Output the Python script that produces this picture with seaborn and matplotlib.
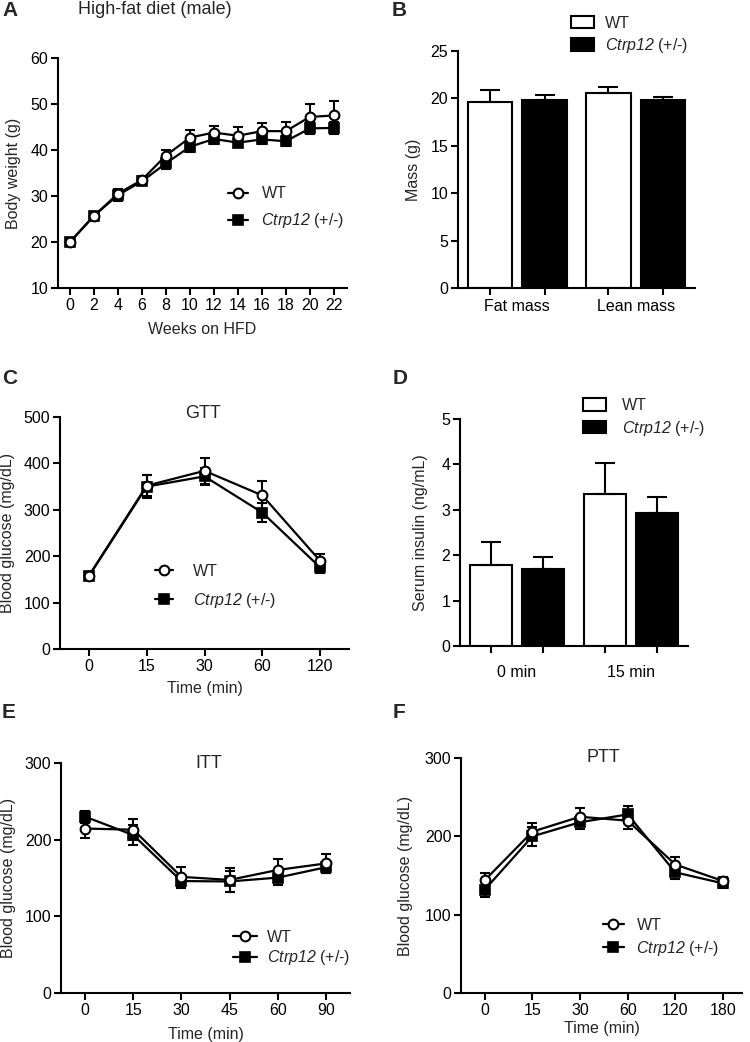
import numpy as np
import pandas as pd
import matplotlib
matplotlib.use("Agg")
import matplotlib.pyplot as plt
import seaborn as sns
from matplotlib.patches import Patch

# A - body weight on high-fat diet
weeks = [0, 2, 4, 6, 8, 10, 12, 14, 16, 18, 20, 22]
bw_wt = [20.0, 25.7, 30.5, 33.5, 38.8, 42.7, 43.8, 43.1, 44.1, 44.1, 47.2, 47.5]
bw_wt_err = [0.5, 0.5, 1.0, 0.8, 1.1, 1.6, 1.5, 1.8, 1.7, 1.9, 2.9, 3.1]
bw_ko = [20.0, 25.7, 30.2, 33.2, 37.1, 40.7, 42.4, 41.6, 42.3, 41.9, 44.7, 44.8]
bw_ko_err = [0.5, 0.5, 1.2, 0.8, 1.2, 1.2, 1.0, 1.0, 1.0, 1.1, 1.3, 1.3]

# B - body composition
comp_groups = ["Fat mass", "Lean mass"]
mass_wt = [19.65, 20.55]
mass_wt_err = [1.2, 0.6]
mass_ko = [19.85, 19.8]
mass_ko_err = [0.5, 0.3]

# C - GTT
gtt_times = ["0", "15", "30", "60", "120"]
gtt_wt = [158, 352, 384, 331, 190]
gtt_wt_err = [8, 23, 28, 30, 14]
gtt_ko = [157, 350, 372, 294, 176]
gtt_ko_err = [8, 24, 18, 21, 12]

# D - serum insulin
ins_groups = ["0 min", "15 min"]
ins_wt = [1.78, 3.35]
ins_wt_err = [0.51, 0.67]
ins_ko = [1.70, 2.94]
ins_ko_err = [0.25, 0.35]

# E - ITT
itt_times = ["0", "15", "30", "45", "60", "90"]
itt_wt = [214.5, 213, 151.5, 147.5, 160.5, 169]
itt_wt_err = [12, 14, 13, 16, 14, 12]
itt_ko = [230, 206, 146, 145.5, 150.5, 164]
itt_ko_err = [8, 13, 8.5, 14, 10, 7]

# F - PTT
ptt_times = ["0", "15", "30", "60", "120", "180"]
ptt_wt = [144, 206, 225, 220, 164, 143]
ptt_wt_err = [9, 11, 11, 10, 9, 5]
ptt_ko = [132, 200, 218, 228, 154, 140]
ptt_ko_err = [10, 12, 8.5, 10.5, 8.5, 6]

sns.set_theme(style="ticks")
plt.rcParams["font.family"] = ["Liberation Sans", "DejaVu Sans"]
# mathtext is only used for the italic gene name
plt.rcParams["mathtext.fontset"] = "custom"
plt.rcParams["mathtext.rm"] = "Liberation Sans:italic"
plt.rcParams["mathtext.it"] = "Liberation Sans:italic"

ko_label = r"$\mathrm{Ctrp12}$ (+/-)"
FS = 11.5
LW = 1.5

W, H = 750, 1042
fig = plt.figure(figsize=(7.5, 10.42), dpi=100)


def make_ax(left, right, top, bottom):
    return fig.add_axes([left / W, 1 - bottom / H, (right - left) / W, (bottom - top) / H])


def style(ax):
    sns.despine(ax=ax)
    for s in ["left", "bottom"]:
        ax.spines[s].set_linewidth(LW)
        ax.spines[s].set_color("black")
    ax.tick_params(width=LW, length=5, labelsize=FS, pad=2, colors="black")
    ax.grid(False)


def line_panel(ax, x, wt, wt_err, ko, ko_err):
    for vals, err in [(wt, wt_err), (ko, ko_err)]:
        ax.errorbar(x, vals, yerr=err, fmt="none", ecolor="black", elinewidth=1.5,
                    capsize=3.5, capthick=1.5, zorder=2)
    sns.lineplot(x=x, y=ko, ax=ax, color="black", linewidth=1.6, marker="s",
                 markersize=6.5, markerfacecolor="black", markeredgecolor="black",
                 markeredgewidth=1.2, label=ko_label, zorder=3)
    sns.lineplot(x=x, y=wt, ax=ax, color="black", linewidth=1.6, marker="o",
                 markersize=7, markerfacecolor="white", markeredgecolor="black",
                 markeredgewidth=1.5, label="WT", zorder=4)


def line_legend(ax, x, y, hl, htp, ls):
    h, l = ax.get_legend_handles_labels()
    order = [l.index("WT"), l.index(ko_label)]
    ax.legend([h[i] for i in order], [l[i] for i in order], loc="center left",
              bbox_to_anchor=(x, y), frameon=False, fontsize=11.5, handlelength=hl,
              handletextpad=htp, labelspacing=ls, borderpad=0, borderaxespad=0)


def bar_panel(ax, groups, wt, wt_err, ko, ko_err):
    df = pd.DataFrame({
        "group": groups * 2,
        "genotype": ["WT"] * len(groups) + ["KO"] * len(groups),
        "value": wt + ko,
    })
    sns.barplot(data=df, x="group", y="value", hue="genotype",
                palette={"WT": "white", "KO": "black"}, saturation=1,
                edgecolor="black", linewidth=LW, width=0.92, gap=0.19,
                errorbar=None, legend=False, ax=ax)
    centers = []
    for cont, err in zip(ax.containers, [wt_err, ko_err]):
        xs = [b.get_x() + b.get_width() / 2 for b in cont]
        ys = [b.get_height() for b in cont]
        centers += xs
        ax.errorbar(xs, ys, yerr=[np.zeros(len(err)), err], fmt="none",
                    ecolor="black", elinewidth=LW, capsize=7.5, capthick=LW, zorder=1)
    ax.set_xticks(sorted(centers), minor=True)
    ax.set_xlim(-0.5, 1.5)
    ax.set_xlabel("")


def bar_legend(ax, x, y, htp):
    handles = [Patch(facecolor="white", edgecolor="black", linewidth=LW),
               Patch(facecolor="black", edgecolor="black", linewidth=LW)]
    ax.legend(handles, ["WT", ko_label], loc="center left", bbox_to_anchor=(x, y),
              frameon=False, fontsize=11.5, handlelength=1.45, handleheight=0.8,
              handletextpad=htp, labelspacing=0.35, borderpad=0, borderaxespad=0)


# ---- A
axA = make_ax(58, 347, 58, 288)
line_panel(axA, weeks, bw_wt, bw_wt_err, bw_ko, bw_ko_err)
style(axA)
axA.set_xlim(-1, 23.1)
axA.set_ylim(10, 60)
axA.set_xticks(weeks)
axA.set_yticks(range(10, 61, 10))
axA.set_xlabel("Weeks on HFD", fontsize=FS)
axA.set_ylabel("Body weight (g)", fontsize=FS)
axA.xaxis.set_label_coords(0.5, -0.15)
axA.yaxis.set_label_coords(-0.128, 0.5)
line_legend(axA, 0.588, 0.346, 1.25, 0.85, 0.62)

# ---- B
axB = make_ax(458, 695, 51, 288)
bar_panel(axB, comp_groups, mass_wt, mass_wt_err, mass_ko, mass_ko_err)
style(axB)
axB.tick_params(axis="x", which="major", length=0, pad=8)
axB.tick_params(axis="x", which="minor", length=5, width=LW, color="black")
axB.set_ylim(0, 25)
axB.set_yticks(range(0, 26, 5))
axB.set_ylabel("Mass (g)", fontsize=FS)
axB.yaxis.set_label_coords(-0.156, 0.5)
bar_legend(axB, 0.477, 1.066, 0.7)

# ---- C
axC = make_ax(60, 349, 417, 649)
xc = np.arange(len(gtt_times))
line_panel(axC, xc, gtt_wt, gtt_wt_err, gtt_ko, gtt_ko_err)
style(axC)
axC.set_xlim(-0.5, len(gtt_times) - 0.5)
axC.set_ylim(0, 500)
axC.set_xticks(xc, gtt_times)
axC.set_yticks(range(0, 501, 100))
axC.set_xlabel("Time (min)", fontsize=FS)
axC.set_ylabel("Blood glucose (mg/dL)", fontsize=FS)
axC.xaxis.set_label_coords(0.5, -0.138)
axC.yaxis.set_label_coords(-0.156, 0.5)
axC.text(0.495, 1.013, "GTT", transform=axC.transAxes, ha="center", va="center", fontsize=13)
line_legend(axC, 0.329, 0.269, 1.15, 1.2, 0.75)

# ---- D
axD = make_ax(460, 688, 419, 646)
bar_panel(axD, ins_groups, ins_wt, ins_wt_err, ins_ko, ins_ko_err)
style(axD)
axD.tick_params(axis="x", which="major", length=0, pad=14)
axD.tick_params(axis="x", which="minor", length=5, width=LW, color="black")
axD.set_ylim(0, 5)
axD.set_yticks(range(0, 6))
axD.set_ylabel("Serum insulin (ng/mL)", fontsize=FS)
axD.yaxis.set_label_coords(-0.14, 0.5)
bar_legend(axD, 0.539, 1.005, 1.0)

# ---- E
axE = make_ax(61, 350, 763, 993)
xe = np.arange(len(itt_times))
line_panel(axE, xe, itt_wt, itt_wt_err, itt_ko, itt_ko_err)
style(axE)
axE.set_xlim(-0.5, len(itt_times) - 0.5)
axE.set_ylim(0, 300)
axE.set_xticks(xe, itt_times)
axE.set_yticks(range(0, 301, 100))
axE.set_xlabel("Time (min)", fontsize=FS)
axE.set_ylabel("Blood glucose (mg/dL)", fontsize=FS)
axE.xaxis.set_label_coords(0.5, -0.148)
axE.yaxis.set_label_coords(-0.156, 0.5)
axE.text(0.512, 1.0, "ITT", transform=axE.transAxes, ha="center", va="center", fontsize=13)
line_legend(axE, 0.595, 0.193, 1.5, 0.65, 0.22)

# ---- F
axF = make_ax(461, 742, 758, 993)
xf = np.arange(len(ptt_times))
line_panel(axF, xf, ptt_wt, ptt_wt_err, ptt_ko, ptt_ko_err)
style(axF)
axF.set_xlim(-0.5, len(ptt_times) - 0.6)
axF.set_ylim(0, 300)
axF.set_xticks(xf, ptt_times)
axF.set_yticks(range(0, 301, 100))
axF.set_xlabel("Time (min)", fontsize=FS)
axF.set_ylabel("Blood glucose (mg/dL)", fontsize=FS)
axF.xaxis.set_label_coords(0.5, -0.12)
axF.yaxis.set_label_coords(-0.171, 0.5)
axF.text(0.505, 1.004, "PTT", transform=axF.transAxes, ha="center", va="center", fontsize=13)
line_legend(axF, 0.505, 0.235, 1.3, 0.8, 0.35)

# titles and panel letters
fig.text(155 / W, 1 - 10 / H, "High-fat diet (male)", fontsize=13, ha="center", va="center")
for letter, px, py in [("A", 2, 10), ("B", 392, 10), ("C", 2, 378),
                       ("D", 393, 378), ("E", 2, 713), ("F", 393, 713)]:
    fig.text(px / W, 1 - py / H, letter, fontsize=15, fontweight="bold",
             ha="left", va="center")

fig.savefig("out.png", dpi=100)
